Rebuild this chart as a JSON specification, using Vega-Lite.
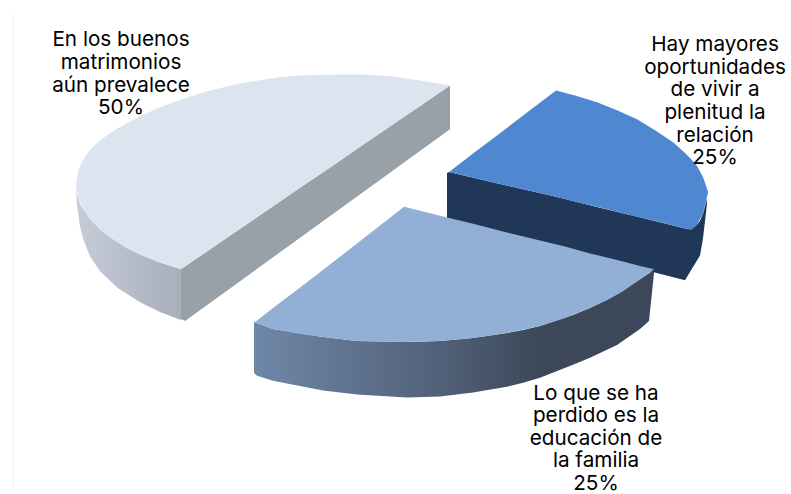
{
  "$schema": "https://vega.github.io/schema/vega-lite/v6.json",
  "width": 791,
  "height": 494,
  "autosize": {"type": "fit", "contains": "padding"},
  "padding": 0,
  "background": "#ffffff",
  "view": {"stroke": null},
  "config": {"axis": {"domain": false, "grid": false, "ticks": false, "labels": false, "title": null}},
  "datasets": {
    "pared_izq_curva": [
      {"x": 76, "y": 185, "y2": 187}, {"x": 77, "y": 195, "y2": 207}, {"x": 80, "y": 205, "y2": 228},
      {"x": 83, "y": 210, "y2": 240}, {"x": 90, "y": 220, "y2": 258}, {"x": 100, "y": 231, "y2": 273},
      {"x": 118, "y": 244, "y2": 290}, {"x": 140, "y": 256, "y2": 304}, {"x": 160, "y": 264, "y2": 314},
      {"x": 181, "y": 271, "y2": 322}
    ],
    "pared_izq_recta": [
      {"x": 181, "y": 271, "y2": 321}, {"x": 185, "y": 268, "y2": 323}, {"x": 450, "y": 86, "y2": 130}
    ],
    "cara_izq": [
      {"x": 76, "y": 185, "y2": 185}, {"x": 78, "y": 172, "y2": 198}, {"x": 83, "y": 161, "y2": 210},
      {"x": 90, "y": 151, "y2": 220}, {"x": 97, "y": 144, "y2": 228}, {"x": 103, "y": 139, "y2": 234},
      {"x": 110, "y": 134, "y2": 239}, {"x": 118, "y": 129, "y2": 244}, {"x": 127, "y": 124, "y2": 250},
      {"x": 140, "y": 117, "y2": 256}, {"x": 160, "y": 108, "y2": 264}, {"x": 181, "y": 100, "y2": 271},
      {"x": 210, "y": 91, "y2": 251}, {"x": 240, "y": 84, "y2": 230}, {"x": 277, "y": 78, "y2": 205},
      {"x": 300, "y": 76, "y2": 189}, {"x": 337, "y": 75, "y2": 164}, {"x": 365, "y": 75, "y2": 144},
      {"x": 393, "y": 77, "y2": 125}, {"x": 420, "y": 81, "y2": 107}, {"x": 450, "y": 86, "y2": 86}
    ],
    "pared_der": [
      {"x": 447, "y": 174, "y2": 220}, {"x": 449, "y": 173, "y2": 220.5}, {"x": 500, "y": 185, "y2": 234},
      {"x": 556, "y": 198, "y2": 248}, {"x": 600, "y": 209, "y2": 260}, {"x": 650, "y": 221, "y2": 273},
      {"x": 685, "y": 230, "y2": 282}, {"x": 691, "y": 231, "y2": 272}, {"x": 697, "y": 226, "y2": 262},
      {"x": 700, "y": 222, "y2": 257}, {"x": 703, "y": 215, "y2": 240}, {"x": 707, "y": 200, "y2": 205}
    ],
    "cara_der": [
      {"x": 449, "y": 173, "y2": 173}, {"x": 475, "y": 153, "y2": 179}, {"x": 500, "y": 134, "y2": 185},
      {"x": 530, "y": 111, "y2": 192}, {"x": 556, "y": 91, "y2": 198}, {"x": 575, "y": 96, "y2": 203},
      {"x": 597, "y": 103, "y2": 208}, {"x": 617, "y": 111, "y2": 213}, {"x": 637, "y": 120, "y2": 218},
      {"x": 655, "y": 131, "y2": 222}, {"x": 673, "y": 143, "y2": 227}, {"x": 685, "y": 154, "y2": 230},
      {"x": 691, "y": 160, "y2": 231}, {"x": 697, "y": 167, "y2": 226}, {"x": 703, "y": 178, "y2": 215},
      {"x": 708, "y": 193, "y2": 194}
    ],
    "pared_inf": [
      {"x": 254, "y": 324, "y2": 375}, {"x": 257, "y": 325, "y2": 378}, {"x": 273, "y": 331, "y2": 383},
      {"x": 323, "y": 339, "y2": 393}, {"x": 357, "y": 343, "y2": 397}, {"x": 407, "y": 344, "y2": 400},
      {"x": 440, "y": 343, "y2": 399}, {"x": 473, "y": 340, "y2": 395}, {"x": 507, "y": 335, "y2": 389},
      {"x": 523, "y": 332, "y2": 385}, {"x": 540, "y": 328, "y2": 380}, {"x": 573, "y": 317, "y2": 367},
      {"x": 590, "y": 310, "y2": 360}, {"x": 617, "y": 296, "y2": 347}, {"x": 640, "y": 281, "y2": 331},
      {"x": 649, "y": 275, "y2": 323}, {"x": 654, "y": 271, "y2": 275}
    ],
    "cara_inf": [
      {"x": 255, "y": 324, "y2": 324}, {"x": 273, "y": 310, "y2": 331}, {"x": 307, "y": 284, "y2": 337},
      {"x": 357, "y": 245, "y2": 343}, {"x": 404, "y": 208, "y2": 344}, {"x": 440, "y": 217, "y2": 343},
      {"x": 473, "y": 225, "y2": 340}, {"x": 507, "y": 234, "y2": 335}, {"x": 540, "y": 242, "y2": 328},
      {"x": 565, "y": 248, "y2": 320}, {"x": 590, "y": 255, "y2": 310}, {"x": 607, "y": 259, "y2": 302},
      {"x": 623, "y": 263, "y2": 293}, {"x": 640, "y": 267.5, "y2": 281}, {"x": 654, "y": 271, "y2": 271}
    ],
    "etiquetas": [
      {"x": 121, "y": 30.5, "etiqueta": "En los buenos\nmatrimonios\naún prevalece\n50%"},
      {"x": 715, "y": 35.5, "etiqueta": "Hay mayores\noportunidades\nde vivir a\nplenitud la\nrelación\n25%"},
      {"x": 596, "y": 386, "etiqueta": "Lo que se ha\nperdido es la\neducación de\nla familia\n25%"}
    ]
  },
  "layer": [
    {
      "data": {"values": [{"x": 13, "y": 14, "y2": 493}]},
      "mark": {"type": "rule", "color": "#ececec", "strokeWidth": 1},
      "encoding": {
        "x": {"field": "x", "type": "quantitative", "scale": {"domain": [0, 791], "nice": false, "zero": false}, "axis": null},
        "y": {"field": "y", "type": "quantitative", "scale": {"domain": [0, 494], "reverse": true, "nice": false, "zero": false}, "axis": null},
        "y2": {"field": "y2"}
      }
    },
    {
      "data": {"name": "pared_izq_curva"},
      "mark": {"type": "area", "orient": "vertical", "fill": {"x1": 0, "x2": 1, "y1": 0, "y2": 0, "gradient": "linear", "stops": [{"offset": 0, "color": "#c6cdd8"}, {"offset": 1, "color": "#a8afba"}]}},
      "encoding": {
        "x": {"field": "x", "type": "quantitative", "axis": null},
        "y": {"field": "y", "type": "quantitative", "axis": null},
        "y2": {"field": "y2"}
      }
    },
    {
      "data": {"name": "pared_izq_recta"},
      "mark": {"type": "area", "orient": "vertical", "fill": "#98a0a8"},
      "encoding": {
        "x": {"field": "x", "type": "quantitative", "axis": null},
        "y": {"field": "y", "type": "quantitative", "axis": null},
        "y2": {"field": "y2"}
      }
    },
    {
      "data": {"name": "cara_izq"},
      "mark": {"type": "area", "orient": "vertical", "fill": "#dbe4ef"},
      "encoding": {
        "x": {"field": "x", "type": "quantitative", "axis": null},
        "y": {"field": "y", "type": "quantitative", "axis": null},
        "y2": {"field": "y2"}
      }
    },
    {
      "data": {"name": "pared_der"},
      "mark": {"type": "area", "orient": "vertical", "fill": "#213757"},
      "encoding": {
        "x": {"field": "x", "type": "quantitative", "axis": null},
        "y": {"field": "y", "type": "quantitative", "axis": null},
        "y2": {"field": "y2"}
      }
    },
    {
      "data": {"name": "cara_der"},
      "mark": {"type": "area", "orient": "vertical", "fill": "#4f87d1"},
      "encoding": {
        "x": {"field": "x", "type": "quantitative", "axis": null},
        "y": {"field": "y", "type": "quantitative", "axis": null},
        "y2": {"field": "y2"}
      }
    },
    {
      "data": {"name": "pared_inf"},
      "mark": {"type": "area", "orient": "vertical", "fill": {"x1": 0, "x2": 1, "y1": 0, "y2": 0, "gradient": "linear", "stops": [{"offset": 0, "color": "#6f87a8"}, {"offset": 0.45, "color": "#52627a"}, {"offset": 0.72, "color": "#3c4859"}, {"offset": 1, "color": "#3c4859"}]}},
      "encoding": {
        "x": {"field": "x", "type": "quantitative", "axis": null},
        "y": {"field": "y", "type": "quantitative", "axis": null},
        "y2": {"field": "y2"}
      }
    },
    {
      "data": {"name": "cara_inf"},
      "mark": {"type": "area", "orient": "vertical", "fill": "#92b0d6"},
      "encoding": {
        "x": {"field": "x", "type": "quantitative", "axis": null},
        "y": {"field": "y", "type": "quantitative", "axis": null},
        "y2": {"field": "y2"}
      }
    },
    {
      "data": {"name": "etiquetas"},
      "mark": {"type": "text", "font": "Inter", "fontSize": 20.7, "lineHeight": 22.6, "lineBreak": "\n", "align": "center", "baseline": "top", "color": "#000000"},
      "encoding": {
        "x": {"field": "x", "type": "quantitative", "axis": null},
        "y": {"field": "y", "type": "quantitative", "axis": null},
        "text": {"field": "etiqueta", "type": "nominal"}
      }
    }
  ]
}
